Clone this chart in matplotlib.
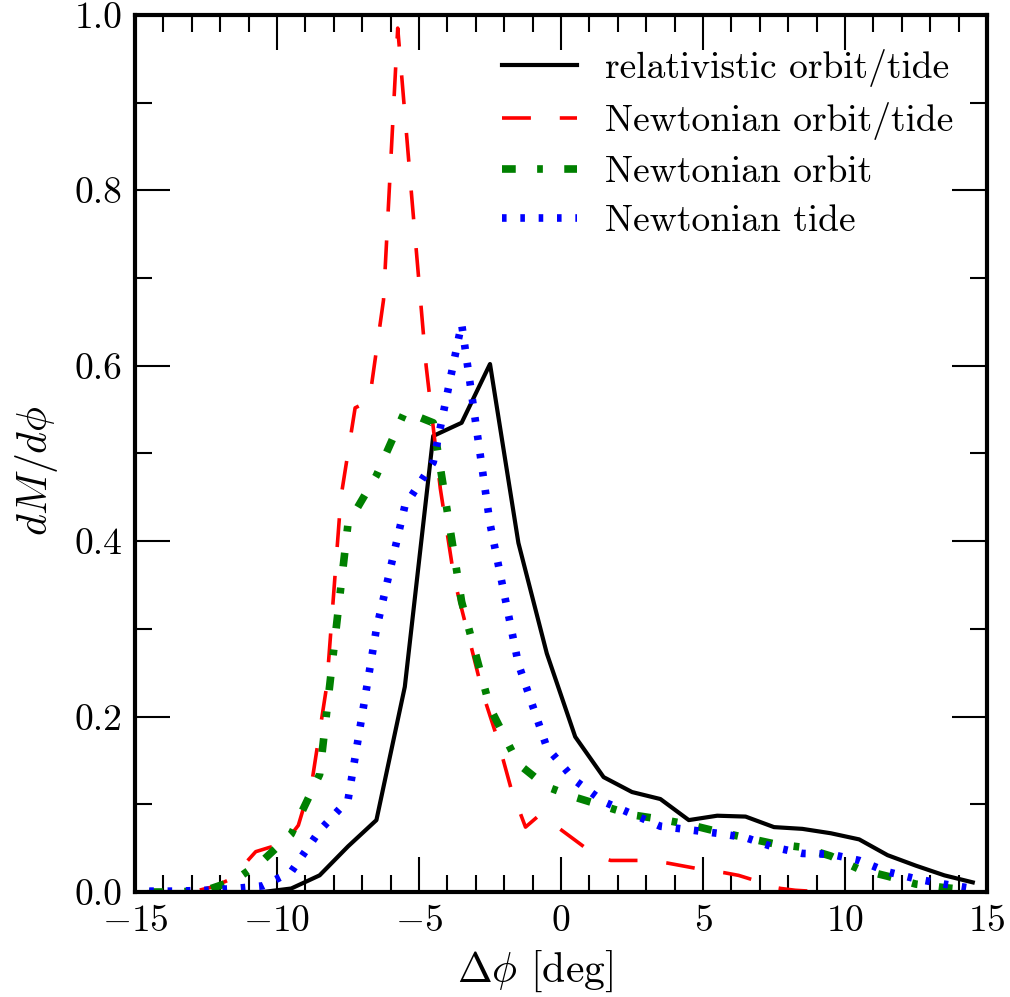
import matplotlib
matplotlib.use('Agg')

import matplotlib.pyplot as plt
import numpy as np
from matplotlib.ticker import MultipleLocator, FormatStrFormatter

plt.rcParams['font.family'] = 'serif'
plt.rcParams['font.serif'] = ['cmr10']
plt.rcParams['mathtext.fontset'] = 'cm'
plt.rcParams['axes.formatter.use_mathtext'] = True

# 1 deg bins
phi = np.arange(-14.5, 15.0, 1.0)
rel_orbit_tide = [0.0, 0.0, 0.0, 0.0, 0.0, 0.004, 0.019, 0.052, 0.082, 0.234,
                  0.52, 0.535, 0.602, 0.398, 0.272, 0.177, 0.131, 0.114, 0.106, 0.082,
                  0.087, 0.086, 0.074, 0.072, 0.067, 0.060, 0.042, 0.030, 0.019, 0.011]
newt_orbit = [0.0, 0.0, 0.002, 0.013, 0.036, 0.066, 0.134, 0.42, 0.475, 0.548,
              0.535, 0.331, 0.21, 0.146, 0.12, 0.108, 0.098, 0.088, 0.083, 0.077,
              0.069, 0.062, 0.055, 0.051, 0.041, 0.026, 0.018, 0.009, 0.005, 0.002]
newt_tide = [0.001, 0.001, 0.002, 0.004, 0.007, 0.023, 0.07, 0.105, 0.30, 0.44,
             0.49, 0.648, 0.42, 0.26, 0.165, 0.127, 0.103, 0.089, 0.075, 0.071,
             0.067, 0.062, 0.051, 0.044, 0.043, 0.036, 0.023, 0.015, 0.009, 0.004]

# 0.5 deg bins
phi_fine = np.arange(-14.75, 15.0, 0.5)
newt_orbit_tide = [0.0, 0.0, 0.0, 0.0, 0.002, 0.006, 0.013, 0.028, 0.046, 0.051,
                   0.055, 0.076, 0.13, 0.235, 0.45, 0.552, 0.56, 0.675, 0.985, 0.79,
                   0.60, 0.46, 0.355, 0.291, 0.226, 0.176, 0.117, 0.074, 0.088, 0.077,
                   0.065, 0.053, 0.041, 0.036, 0.036, 0.036, 0.035, 0.033, 0.030, 0.027,
                   0.024, 0.022, 0.019, 0.014, 0.007, 0.004, 0.002, 0.001, 0.0, 0.0,
                   0.0, 0.0, 0.0, 0.0, 0.0, 0.0, 0.0, 0.0, 0.0, 0.0]

fig = plt.figure(figsize=(10.1, 9.97), dpi=100)
ax = fig.add_axes([0.1337, 0.1053, 0.8435, 0.8797])

ax.plot(phi, rel_orbit_tide, color='k', lw=3, label='relativistic orbit/tide')
ax.plot(phi_fine, newt_orbit_tide, color='r', lw=2.6, dashes=(8, 8),
        label='Newtonian orbit/tide')
ax.plot(phi, newt_orbit, color='g', lw=5.5, dashes=(1.8, 2.8, 0.75, 2.8),
        label='Newtonian orbit')
ax.plot(phi, newt_tide, color='b', lw=5.5, dashes=(0.6, 1.8),
        label='Newtonian tide')

ax.set_xlim(-15, 15)
ax.set_ylim(0, 1)
ax.xaxis.set_major_locator(MultipleLocator(5))
ax.xaxis.set_minor_locator(MultipleLocator(1))
ax.yaxis.set_major_locator(MultipleLocator(0.2))
ax.yaxis.set_minor_locator(MultipleLocator(0.1))
ax.yaxis.set_major_formatter(FormatStrFormatter('%.1f'))

ax.tick_params(which='both', direction='in', top=True, right=True,
               labelsize=27, width=1.5, pad=9)
ax.tick_params(which='major', length=25)
ax.tick_params(which='minor', length=12)
for s in ax.spines.values():
    s.set_linewidth(3)

ax.set_xlabel(r'$\Delta\phi$ [deg]', fontsize=30)
ax.set_ylabel(r'$dM/d\phi$', fontsize=30)
ax.xaxis.set_label_coords(0.47, -0.064)
ax.yaxis.set_label_coords(-0.088, 0.48)

ax.legend(loc='upper right', frameon=False, fontsize=27, handlelength=2.0,
          handletextpad=0.75, labelspacing=0.42, borderaxespad=0.5)

fig.savefig('out.png', dpi=100)
